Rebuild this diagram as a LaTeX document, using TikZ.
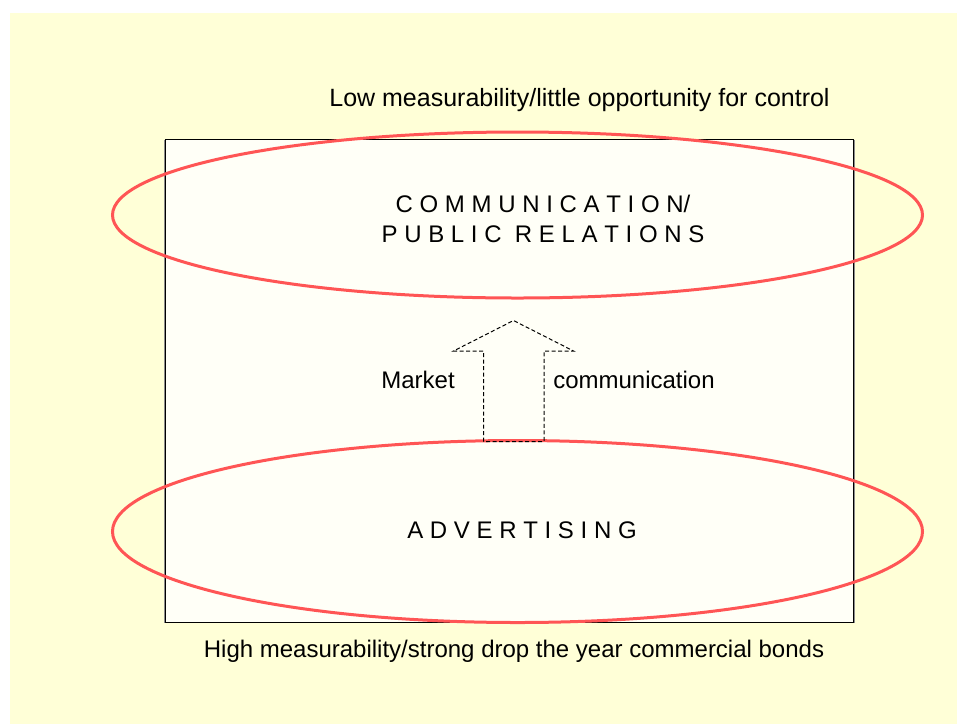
\documentclass[tikz,border=0pt]{standalone}
\usepackage{fontspec}
\setmainfont{Liberation Sans}
\usetikzlibrary{shapes.geometric}
\definecolor{pagebg}{RGB}{255,255,215}
\definecolor{panelbg}{RGB}{255,255,247}
\definecolor{ringred}{RGB}{255,85,85}
\begin{document}
\begin{tikzpicture}[x=1pt,y=-1pt,
  ring/.style={ellipse, draw=ringred, line width=3pt, inner sep=0pt, outer sep=0pt},
  caption/.style={inner sep=0pt, font=\fontsize{24}{29}\selectfont},
  title/.style={inner sep=0pt, align=center, font=\fontsize{24}{30}\selectfont},
  blockarrow/.style={draw=black, line width=1pt, dash pattern=on 4pt off 2.5pt, fill=none}]
  \useasboundingbox (0,0) rectangle (957,724);
  % page background
  \fill[pagebg] (10,13) rectangle (957,724);
  % central panel with a faint shadow on its sides
  \draw[black!45, line width=1.5pt] (164.5,139.5) -- (164.5,623);
  \draw[black!45, line width=1.5pt] (854,139.5) -- (854,623);
  \draw[fill=panelbg, draw=black, line width=0.9pt] (165.5,139.5) rectangle (853,622.5);
  % the two fields
  \node[ring, minimum width=810pt, minimum height=166pt] (pr) at (517.5,215) {};
  \node[ring, minimum width=810pt, minimum height=182pt] (adv) at (517.5,531.5) {};
  % upward block arrow
  \draw[blockarrow] (483.5,441.5) -- (483.5,351) -- (453.5,351) -- (513.5,320.5)
     -- (573.5,351) -- (544,351) -- (544,441.5) -- cycle;
  % labels
  \node[caption, font=\fontsize{25}{29}\selectfont] (low) at (579.5,100) {Low measurability/little opportunity for control};
  \node[caption] (high) at (514,651) {High measurability/strong drop the year commercial bonds};
  \node[title] (prtext) at (543,219) {C O M M U N I C A T I O N/\\P U B L I C\ \ R E L A T I O N S};
  \node[title] (advtext) at (522,530) {A D V E R T I S I N G};
  \node[caption] (mkt) at (418,380) {Market};
  \node[caption] (comm) at (634,380) {communication};
\end{tikzpicture}
\end{document}
